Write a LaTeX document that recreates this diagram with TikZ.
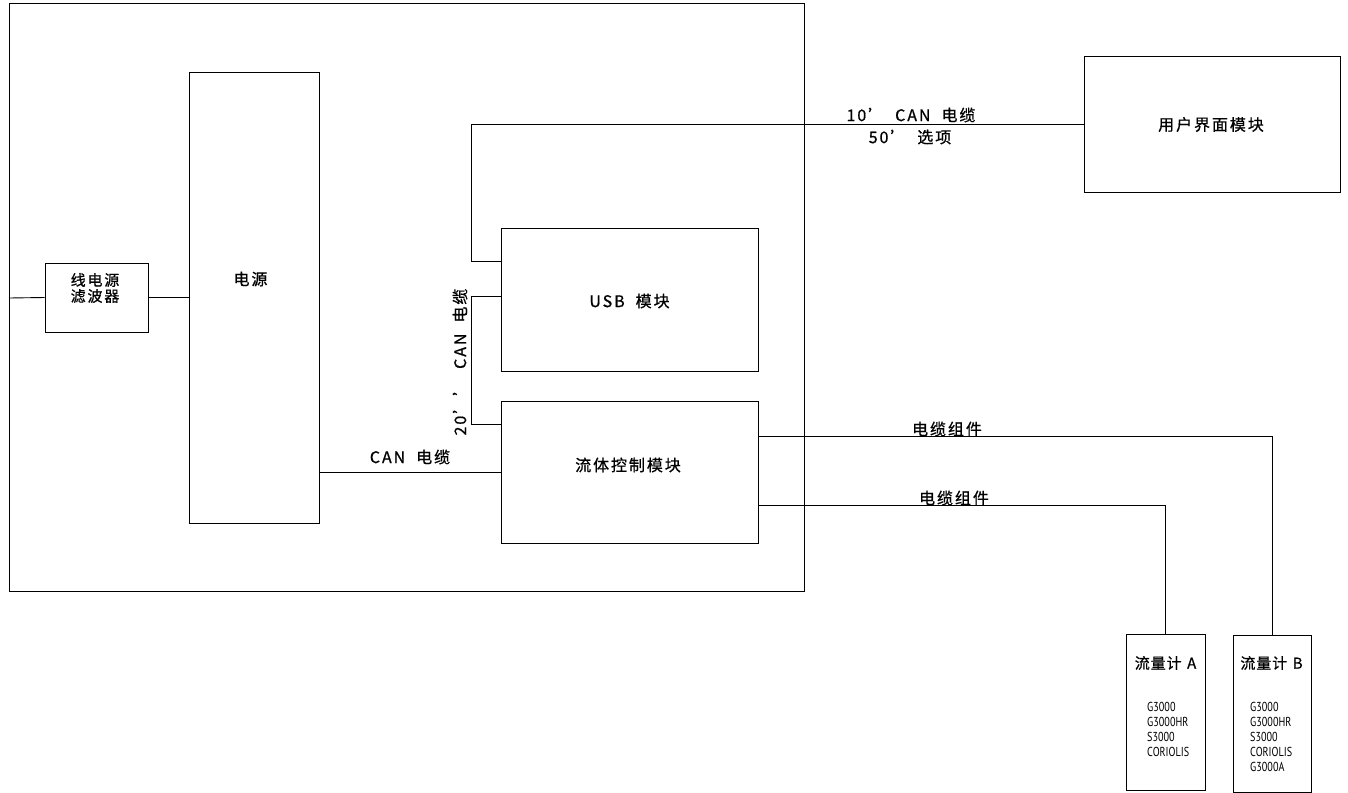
\documentclass[tikz,border=0pt]{standalone}
\usepackage{fontspec}
\setmainfont[LetterSpace=12, FakeBold=0.8, WordSpace=2]{Noto Sans CJK SC}
\newfontfamily\titlefont[LetterSpace=6, FakeBold=0.8, WordSpace=1.3]{Noto Sans CJK SC}
\newfontfamily\listfont[FakeStretch=0.78]{PT Sans}
\usetikzlibrary{positioning}

\tikzset{
    unit/.style={draw, line width=0.9pt, inner sep=0pt},
    cable/.style={line width=0.9pt},
    lbl/.style={font=\fontsize{16}{18}\selectfont, inner sep=0pt},
    metertitle/.style={font=\titlefont\fontsize{15}{17}\selectfont, inner sep=0pt},
    modellist/.style={anchor=north west, align=left, inner sep=0pt, font=\listfont\fontsize{13}{15}\selectfont}
}

\begin{document}
\begin{tikzpicture}[x=1pt, y=-1pt]
    \useasboundingbox (0,0) rectangle (1348,792);

    % cabinet outline
    \draw[line width=0.9pt] (9,3) rectangle (804,591);

    % units inside the cabinet
    \node[unit, minimum width=103pt, minimum height=69pt] (filter) at (96.5,297.5) {};
    \node[lbl, align=center, font=\fontsize{15}{16}\selectfont] (filtertext) at (95,288) {线电源\\滤波器};
    \node[unit, minimum width=130pt, minimum height=451pt] (power) at (254,297.5) {};
    \node[lbl] (powertext) at (250.5,279) {电源};
    \node[unit, minimum width=257pt, minimum height=143pt] (usb) at (629.5,299.5) {};
    \node[lbl] (usbtext) at (629.5,301) {USB 模块};
    \node[unit, minimum width=257pt, minimum height=142pt] (fluid) at (629.5,472) {};
    \node[lbl] (fluidtext) at (628,465) {流体控制模块};

    % outside units
    \node[unit, minimum width=256pt, minimum height=136pt] (ui) at (1212,124) {};
    \node[lbl] (uitext) at (1211,124.5) {用户界面模块};
    \node[unit, minimum width=79pt, minimum height=156pt] (meterA) at (1165.5,712) {};
    \node[unit, minimum width=78pt, minimum height=157pt] (meterB) at (1272,713.5) {};
    \node[metertitle] (meterAtitle) at (1165.5,663) {流量计 A};
    \node[metertitle] (meterBtitle) at (1271.5,663) {流量计 B};
    \node[modellist] (meterAlist) at (1147,702) {G3000\\G3000HR\\S3000\\CORIOLIS};
    \node[modellist] (meterBlist) at (1250,702) {G3000\\G3000HR\\S3000\\CORIOLIS\\G3000A};

    % mains in
    \coordinate (mains) at (9,298);
    \draw[cable] (mains) -- (filter.west);
    \draw[cable] (filter.east) -- (filter.east -| power.west);

    % CAN links
    \draw[cable] (fluid.west -| power.east) -- (fluid.west);
    \node[lbl] (canlbl) at (410,457) {CAN 电缆};

    \draw[cable] ([yshift=-34pt]usb.north west) -- ++(-29,0) |- (ui.west);
    \node[lbl] (ui10) at (911,115) {10’ CAN 电缆};
    \node[lbl] (ui50) at (910,137) {50’ 选项};

    \draw[cable] ([yshift=-69pt]usb.north west) -- ++(-29,0) |- ([yshift=-24pt]fluid.north west);
    \node[lbl, rotate=90] (can20) at (460,362) {20’’ CAN 电缆};

    % cable assemblies to the meters
    \draw[cable] ([yshift=-36pt]fluid.north east) -| (meterB.north);
    \node[lbl] (cableB) at (947,429) {电缆组件};
    \draw[cable] ([yshift=-105pt]fluid.north east) -| (meterA.north);
    \node[lbl] (cableA) at (954,498) {电缆组件};
\end{tikzpicture}
\end{document}
